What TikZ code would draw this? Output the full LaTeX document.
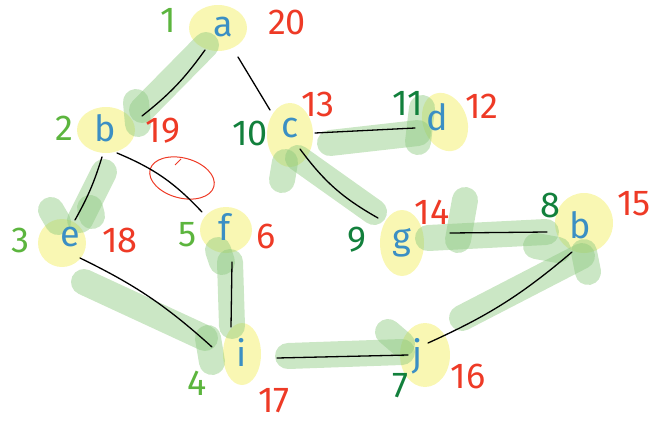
\documentclass[tikz,border=0pt]{standalone}
\usepackage{fontspec}
\setmainfont{Fira Sans}
\usetikzlibrary{calc}
\definecolor{letblue}{HTML}{3B8FC4}
\definecolor{lgreen}{HTML}{5CB53E}
\definecolor{dgreen}{HTML}{12803C}
\definecolor{numred}{HTML}{EE3A26}
\definecolor{hlgreen}{HTML}{8CC97F}
\definecolor{hlyellow}{HTML}{F6F38A}
\begin{document}
\begin{tikzpicture}[x=1pt,y=-1pt,
  lett/.style={text=letblue,font=\fontsize{36}{36}\selectfont,inner sep=0pt},
  lnum/.style={text=lgreen,font=\fontsize{36}{36}\selectfont,inner sep=0pt},
  dnum/.style={text=dgreen,font=\fontsize{36}{36}\selectfont,inner sep=0pt},
  rnum/.style={text=numred,font=\fontsize{36}{36}\selectfont,inner sep=0pt},
  hl/.style={draw=hlgreen,draw opacity=0.45,line width=26pt,line cap=round},
  yb/.style={fill=hlyellow,fill opacity=0.65},
  edge/.style={draw=black,line width=1.3pt,line cap=round}]
\useasboundingbox (0,0) rectangle (663,423);
% yellow highlights
\fill[yb] (218,28) ellipse [x radius=29, y radius=23];
\fill[yb] (106,130) ellipse [x radius=29, y radius=23];
\fill[yb] (62,243) ellipse [x radius=24, y radius=24];
\fill[yb] (226,230) ellipse [x radius=26, y radius=23];
\fill[yb] (242,354) ellipse [x radius=19, y radius=31];
\fill[yb] (425,355) ellipse [x radius=25, y radius=32];
\fill[yb] (290,135) ellipse [x radius=23, y radius=32];
\fill[yb, rotate around={20:(445,122)}] (445,122) ellipse [x radius=22, y radius=30];
\fill[yb] (402,243) ellipse [x radius=22, y radius=33];
\fill[yb] (584,223) ellipse [x radius=29, y radius=30];
% green tree highlights
\draw[hl] (206,45) -- (142,110);
\draw[hl] (136,102) -- (138,124);
\draw[hl] (104,172) -- (80,220);
\draw[hl] (51,210) -- (58,222);
\draw[hl] (90,208) -- (92,216);
\draw[hl] (84,282) -- (205,338);
\draw[hl] (208,338) -- (212,362);
\draw[hl] (230,262) -- (232,326);
\draw[hl] (218,250) -- (222,262);
\draw[hl] (288,356) -- (402,352);
\draw[hl] (388,332) -- (402,344);
\draw[hl] (462,318) -- (582,256);
\draw[hl] (584,252) -- (588,272);
\draw[hl] (428,238) -- (546,232);
\draw[hl] (465,200) -- (458,240);
\draw[hl] (536,246) -- (558,250);
\draw[hl] (298,158) -- (374,212);
\draw[hl] (285,162) -- (282,180);
\draw[hl] (330,143) -- (418,133);
\draw[hl] (422,108) -- (418,142);
% red circle
\draw[numred, line width=1pt, rotate around={-15:(182,178)}] (182,178) ellipse [x radius=33, y radius=20];
\draw[numred, line width=1pt] (175,165) -- (181,159);
% letter nodes
\node[lett] (a) at (223,27) {a};
\node[lett] (b) at (105,128) {b};
\node[lett] (e) at (70,237) {e};
\node[lett] (f) at (225,227) {f};
\node[lett] (i) at (242,352) {i};
\node[lett] (j) at (418,356) {j};
\node[lett] (c) at (290,128) {c};
\node[lett] (d) at (437,117) {d};
\node[lett] (g) at (402,243) {g};
\node[lett] (h) at (580,225) {b};
% discovery numbers
\node[lnum] (na) at (168,20) {1};
\node[lnum] (nb) at (64,128) {2};
\node[lnum] (ne) at (20,240) {3};
\node[lnum] (ni) at (197,383) {4};
\node[lnum] (nf) at (188,235) {5};
\node[dnum] (nj) at (400,386) {7};
\node[dnum] (nh) at (550,205) {8};
\node[dnum] (ng) at (357,240) {9};
\node[dnum] (nc) at (250,133) {10};
\node[dnum] (nd) at (408,103) {11};
% finish numbers
\node[rnum] (fd) at (482,106) {12};
\node[rnum] (fc) at (318,104) {13};
\node[rnum] (fg) at (432,212) {14};
\node[rnum] (fh) at (634,204) {15};
\node[rnum] (fj) at (468,376) {16};
\node[rnum] (fi) at (274,401) {17};
\node[rnum] (ff) at (266,236) {6};
\node[rnum] (fe) at (120,240) {18};
\node[rnum] (fb) at (163,131) {19};
\node[rnum] (fa) at (287,22) {20};
% edges
\draw[edge] ($(a)+(-18,23)$) to[bend left=8] ($(b)+(37,-12)$);
\draw[edge] ($(a)+(15,30)$) -- ($(c)+(-20,-18)$);
\draw[edge] ($(b)+(-3,29)$) to[bend left=6] ($(e)+(5,-17)$);
\draw[edge] ($(b)+(12,25)$) to[bend left=12] ($(f)+(-23,-15)$);
\draw[edge] ($(e)+(10,21)$) to[bend left=8] ($(i)+(-30,-5)$);
\draw[edge] ($(f)+(7,35)$) -- ($(i)+(-11,-25)$);
\draw[edge] ($(i)+(35,6)$) -- ($(j)+(-10,-1)$);
\draw[edge] ($(j)+(10,-13)$) to[bend right=8] ($(h)+(-8,27)$);
\draw[edge] ($(h)+(-33,7)$) -- ($(g)+(48,-10)$);
\draw[edge] ($(g)+(-24,-25)$) to[bend left=12] ($(c)+(10,21)$);
\draw[edge] ($(c)+(25,5)$) -- ($(d)+(-22,11)$);
\end{tikzpicture}
\end{document}
